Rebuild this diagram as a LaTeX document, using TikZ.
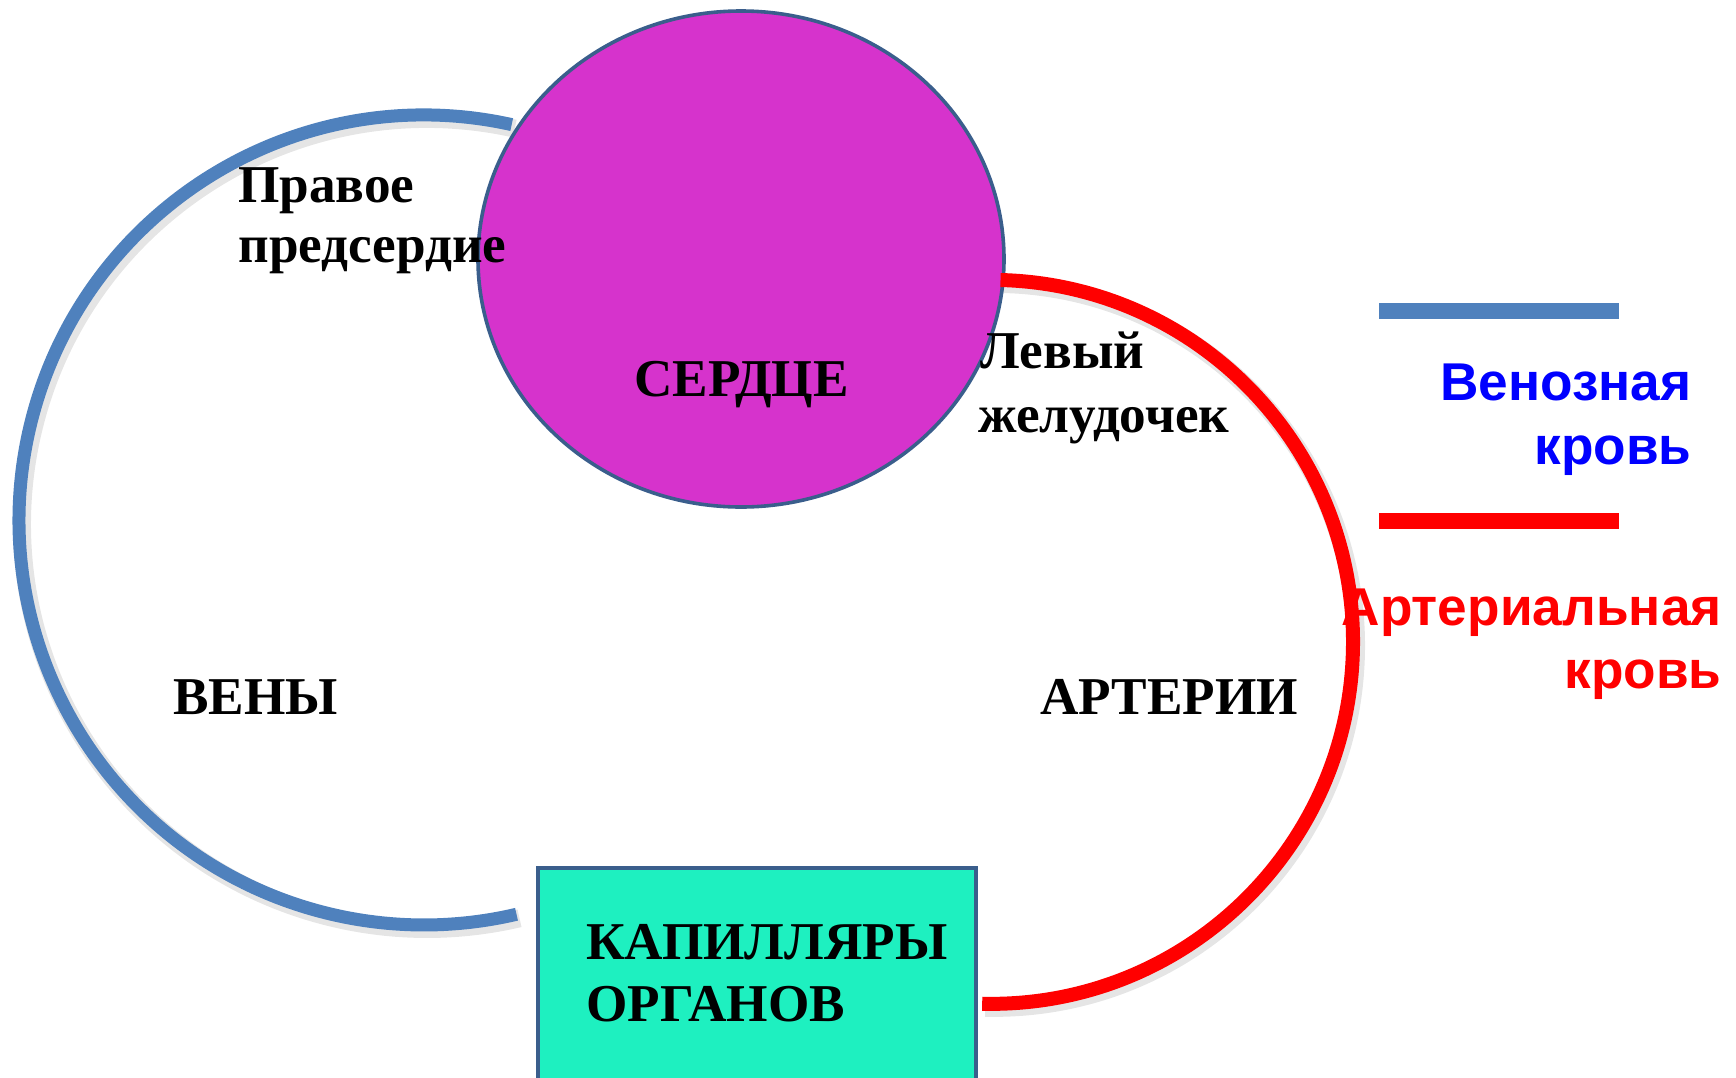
\documentclass[tikz,border=0pt]{standalone}
\usepackage{fontspec}
\setmainfont{Liberation Serif}
\newfontfamily\legendfont{Liberation Sans}
\usetikzlibrary{shapes.geometric}
\definecolor{heartfill}{RGB}{214,51,204}
\definecolor{heartline}{RGB}{58,94,140}
\definecolor{veinblue}{RGB}{79,129,189}
\definecolor{artred}{RGB}{255,0,0}
\definecolor{boxfill}{RGB}{30,240,192}
\definecolor{legblue}{RGB}{0,0,255}
\tikzset{
  x=0.5pt, y=0.5pt,
  vein/.style={draw=veinblue, line width=6.5pt},
  artery/.style={draw=artred, line width=7pt},
  shade/.style={draw=black, opacity=0.10, line width=9pt},
  lbl/.style={inner sep=0pt, anchor=base west, font=\fontsize{26.6}{30}\selectfont\bfseries},
  legtext/.style={inner sep=0pt, anchor=base east, font=\fontsize{26.6}{31}\selectfont\legendfont\bfseries},
  legline/.style={line width=8pt},
}
\begin{document}
\begin{tikzpicture}
\useasboundingbox (0,0) rectangle (1736,-1077);
% circulation arcs
\coordinate (bs) at (511.7,-124.6);
\coordinate (rs) at (1000.5,-280);
\draw[shade] (514.7,-128.6) arc[start angle=77.5, end angle=283.2, radius=202.5pt];
\draw[vein] (bs) arc[start angle=77.5, end angle=283.2, radius=202.5pt] coordinate (be);
% heart
\node[ellipse, draw=heartline, line width=1.8pt, fill=heartfill, minimum width=263pt, minimum height=248pt, inner sep=0pt] (heart) at (741,-259) {};
\draw[shade] (1003.5,-284) arc[start angle=88.5, end angle=-91.4, radius=181pt];
\draw[artery] (rs) arc[start angle=88.5, end angle=-91.4, radius=181pt] coordinate (re);
% capillaries box
\node[rectangle, draw=heartline, line width=2pt, fill=boxfill, minimum width=219pt, minimum height=111pt, inner sep=0pt] (caps) at (756.5,-979) {};
% labels
\node[lbl] (heartlbl) at (634,-396) {СЕРДЦЕ};
\node[lbl] (ra1) at (238,-202) {Правое};
\node[lbl] (ra2) at (238,-262) {предсердие};
\node[lbl] (lv1) at (980,-368) {Левый};
\node[lbl] (lv2) at (978,-432) {желудочек};
\node[lbl] (veins) at (173,-714) {ВЕНЫ};
\node[lbl] (arteries) at (1040,-714) {АРТЕРИИ};
\node[lbl] (cap1) at (586,-959) {КАПИЛЛЯРЫ};
\node[lbl] (cap2) at (586,-1021) {ОРГАНОВ};
% legend
\coordinate (lb1) at (1379,-311);
\coordinate (lb2) at (1619,-311);
\coordinate (lr1) at (1379,-521);
\coordinate (lr2) at (1619,-521);
\draw[legline, veinblue] (lb1) -- (lb2);
\draw[legline, artred] (lr1) -- (lr2);
\node[legtext, text=legblue] (ven1) at (1692,-400) {Венозная};
\node[legtext, text=legblue] (ven2) at (1692,-464) {кровь};
\node[legtext, text=artred] (art1) at (1722,-625) {Артериальная};
\node[legtext, text=artred] (art2) at (1722,-688) {кровь};
\end{tikzpicture}
\end{document}
